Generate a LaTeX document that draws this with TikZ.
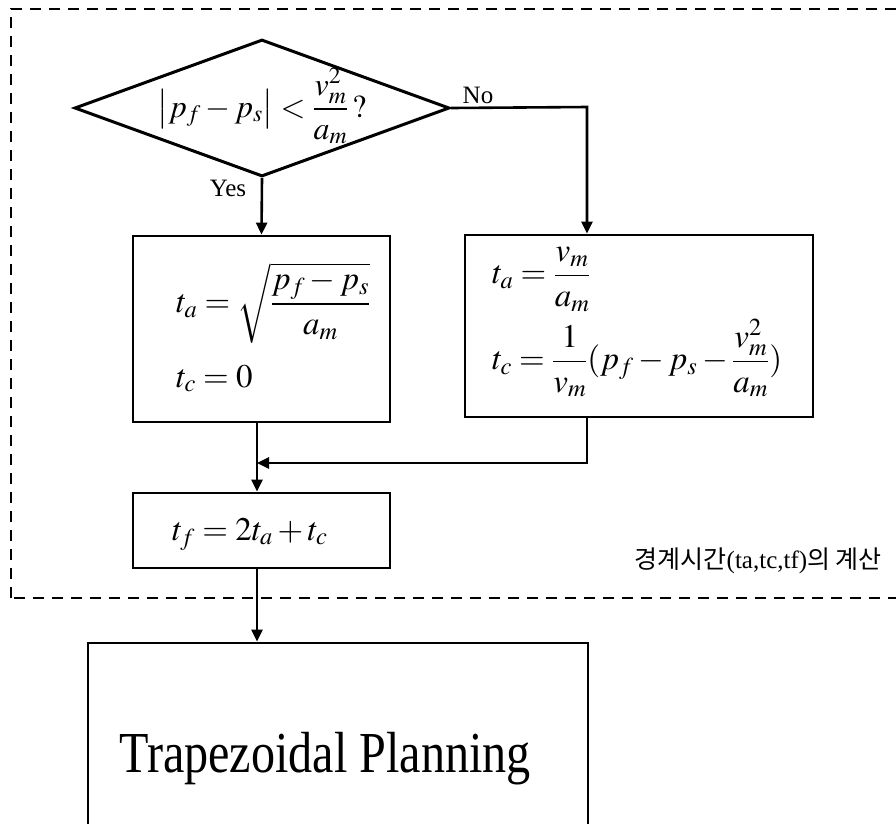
\documentclass[tikz,border=0pt]{standalone}
\usepackage{amsmath}
\usepackage{mathptmx}
\usepackage{fontspec}
\setmainfont{Liberation Serif}
\newfontfamily\trapfont[FakeStretch=0.83]{Liberation Serif}
\newfontfamily\krfont{Noto Sans CJK KR}
\usetikzlibrary{shapes.geometric,arrows.meta}
\begin{document}
\begin{tikzpicture}[x=1pt,y=-1pt,
  box/.style={draw,line width=2.8pt,rectangle,inner sep=0pt},
  conn/.style={line width=2.6pt,-{Triangle[length=12pt,width=11pt]}},
  eq/.style={font=\fontsize{33}{38}\selectfont,inner sep=0pt,anchor=west},
  lbl/.style={font=\fontsize{25}{28}\selectfont,inner sep=0pt}]
\clip (0,0) rectangle (896,823);
% dashed group frame
\draw[line width=2.4pt,dash pattern=on 11pt off 8pt] (11,598) -- (11,9) -- (930,9) -- (930,598) -- cycle;
% decision
\node[draw,diamond,line width=3pt,inner sep=0pt,minimum width=375pt,minimum height=137pt] (dia) at (262,108) {};
\node[inner sep=0pt,font=\fontsize{32}{40}\selectfont] (cond) at (262,106)
  {$\displaystyle \bigl|p_f - p_s\bigr| < \frac{v_m^2}{a_m}\,?$};
% boxes
\node[box,minimum width=257pt,minimum height=186pt] (lbox) at (261.5,329) {};
\node[box,minimum width=348pt,minimum height=182pt] (rbox) at (639,326) {};
\node[box,minimum width=257pt,minimum height=75pt] (tfbox) at (261.5,530.5) {};
\node[box,minimum width=500pt,minimum height=228pt] (trap) at (338,757) {};
\node[inner sep=0pt,anchor=base,font=\trapfont\fontsize{58}{62}\selectfont] (traptext) at (325,772) {Trapezoidal Planning};
% formulas
\node[eq] (ta1) at (176,303) {$t_a = \sqrt{\displaystyle\frac{p_f - p_s}{a_m}}$};
\node[eq,anchor=base west] (tc1) at (176,387) {$t_c = 0$};
\node[eq] (ta2) at (492,279) {$t_a = \displaystyle\frac{v_m}{a_m}$};
\node[eq] (tc2) at (492,358) {$t_c = \displaystyle\frac{1}{v_m}(p_f - p_s - \frac{v_m^2}{a_m})$};
\node[eq,anchor=base west] (tf) at (172,540) {$t_f = 2t_a + t_c$};
% labels
\node[lbl] (yes) at (228,188) {Yes};
\node[lbl] (no) at (478,95) {No};
\node[inner sep=0pt,anchor=base east,font=\fontsize{25}{30}\selectfont] (grp) at (882,568)
  {{\krfont 경계시간}(ta,tc,tf){\krfont 의 계산}};
% connectors
\coordinate (nx) at (587,107);
\coordinate (j) at (257,463);
\draw[conn] (dia.south) -- (lbox.north);
\draw[conn] (dia.east) -- (nx) -- (nx |- rbox.north);
\draw[conn] (nx |- rbox.south) |- (j);
\draw[conn] (j |- lbox.south) -- (j |- tfbox.north);
\draw[conn] (j |- tfbox.south) -- (j |- trap.north);
\end{tikzpicture}
\end{document}
